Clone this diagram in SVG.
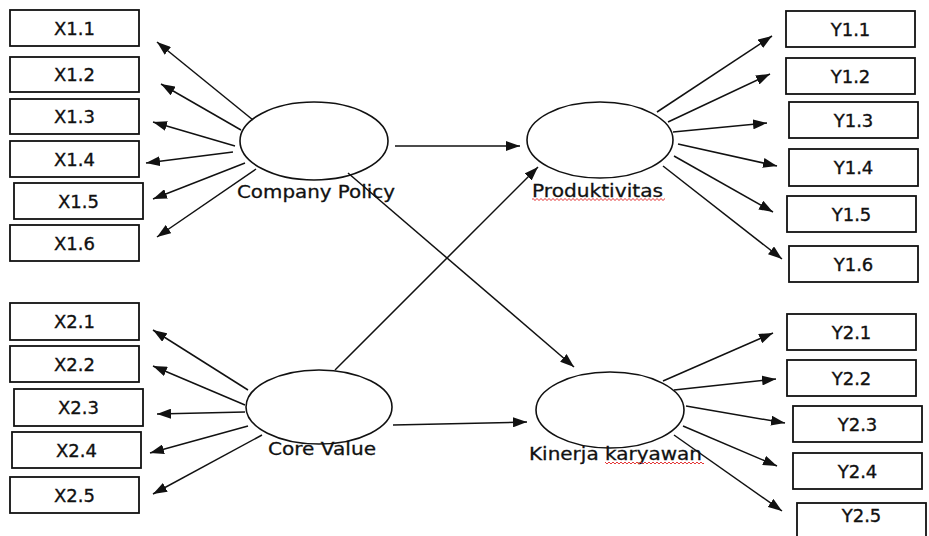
<svg xmlns="http://www.w3.org/2000/svg" width="929" height="536" viewBox="0 0 929 536">
<style>
.box rect{fill:#fff;stroke:#111;stroke-width:1.8}
.box text{font-family:"DejaVu Sans",Verdana,sans-serif;font-size:18px;text-anchor:middle;fill:#111;stroke:#111;stroke-width:0.35}
.lat ellipse{fill:#fff;stroke:#111;stroke-width:1.6}
.lat text{font-family:"DejaVu Sans",Verdana,sans-serif;font-size:18px;text-anchor:middle;fill:#111;stroke:#111;stroke-width:0.3}
.conn line{stroke:#111;stroke-width:1.5;marker-end:url(#ah)}
.wave path{fill:none;stroke:#e02020;stroke-width:0.9}
</style>
<defs>
<marker id="ah" markerUnits="userSpaceOnUse" markerWidth="14" markerHeight="10" refX="14" refY="5" orient="auto"><path d="M0,0 L14,5 L0,10 z" fill="#111"/></marker>
<pattern id="w1" class="wave" patternUnits="userSpaceOnUse" x="0" y="197.5" width="4" height="4"><path d="M0,2 Q1,0 2,2 T4,2"/></pattern>
<pattern id="w2" class="wave" patternUnits="userSpaceOnUse" x="0" y="461" width="4" height="4"><path d="M0,2 Q1,0 2,2 T4,2"/></pattern>
</defs>
<rect width="929" height="536" fill="#fff"/>
<g id="X1.1" class="box"><rect x="10" y="10" width="129" height="36"/><text x="74.5" y="34.5">X1.1</text></g>
<g id="X1.2" class="box"><rect x="10" y="57" width="129" height="35"/><text x="74.5" y="81">X1.2</text></g>
<g id="X1.3" class="box"><rect x="10" y="99" width="129" height="35"/><text x="74.5" y="123">X1.3</text></g>
<g id="X1.4" class="box"><rect x="10" y="141" width="129" height="36"/><text x="74.5" y="165.5">X1.4</text></g>
<g id="X1.5" class="box"><rect x="14" y="183" width="129" height="36"/><text x="78.5" y="207.5">X1.5</text></g>
<g id="X1.6" class="box"><rect x="10" y="225" width="129" height="36"/><text x="74.5" y="249.5">X1.6</text></g>
<g id="X2.1" class="box"><rect x="10" y="303" width="129" height="37"/><text x="74.5" y="328">X2.1</text></g>
<g id="X2.2" class="box"><rect x="10" y="346" width="129" height="36"/><text x="74.5" y="370.5">X2.2</text></g>
<g id="X2.3" class="box"><rect x="14" y="389" width="129" height="37"/><text x="78.5" y="414">X2.3</text></g>
<g id="X2.4" class="box"><rect x="12" y="432" width="129" height="36"/><text x="76.5" y="456.5">X2.4</text></g>
<g id="X2.5" class="box"><rect x="10" y="477" width="129" height="36"/><text x="74.5" y="501.5">X2.5</text></g>
<g id="Y1.1" class="box"><rect x="786" y="11" width="129" height="36"/><text x="850.5" y="35.5">Y1.1</text></g>
<g id="Y1.2" class="box"><rect x="786" y="58" width="129" height="36"/><text x="850.5" y="82.5">Y1.2</text></g>
<g id="Y1.3" class="box"><rect x="789" y="102" width="129" height="36"/><text x="853.5" y="126.5">Y1.3</text></g>
<g id="Y1.4" class="box"><rect x="789" y="149" width="129" height="37"/><text x="853.5" y="174">Y1.4</text></g>
<g id="Y1.5" class="box"><rect x="787" y="196" width="129" height="36"/><text x="851.5" y="220.5">Y1.5</text></g>
<g id="Y1.6" class="box"><rect x="789" y="246" width="129" height="36"/><text x="853.5" y="270.5">Y1.6</text></g>
<g id="Y2.1" class="box"><rect x="787" y="314" width="129" height="36"/><text x="851.5" y="338.5">Y2.1</text></g>
<g id="Y2.2" class="box"><rect x="787" y="360" width="129" height="36"/><text x="851.5" y="384.5">Y2.2</text></g>
<g id="Y2.3" class="box"><rect x="793" y="406" width="129" height="36"/><text x="857.5" y="430.5">Y2.3</text></g>
<g id="Y2.4" class="box"><rect x="793" y="453" width="129" height="36"/><text x="857.5" y="477.5">Y2.4</text></g>
<g id="Y2.5" class="box"><rect x="797" y="503" width="129" height="37"/><text x="861.5" y="522">Y2.5</text></g>
<g id="CompanyPolicy" class="lat"><ellipse cx="314" cy="141" rx="74" ry="39"/><text x="316" y="198" textLength="158" lengthAdjust="spacingAndGlyphs">Company Policy</text></g>
<g id="Produktivitas" class="lat"><ellipse cx="600" cy="140" rx="73" ry="38"/><text x="597.5" y="197" textLength="131" lengthAdjust="spacingAndGlyphs">Produktivitas</text><rect x="532" y="197.5" width="133" height="4" fill="url(#w1)"/></g>
<g id="CoreValue" class="lat"><ellipse cx="319" cy="407" rx="73" ry="37"/><text x="322" y="455" textLength="108" lengthAdjust="spacingAndGlyphs">Core Value</text></g>
<g id="KinerjaKaryawan" class="lat"><ellipse cx="610" cy="410" rx="74" ry="38"/><text x="615.5" y="459.5" textLength="173" lengthAdjust="spacingAndGlyphs">Kinerja karyawan</text><rect x="605" y="461" width="99" height="4" fill="url(#w2)"/></g>
<g id="connectors" class="conn">
<line x1="253" y1="120" x2="157" y2="42"/>
<line x1="241" y1="130" x2="161" y2="84"/>
<line x1="235" y1="146" x2="153" y2="122"/>
<line x1="233" y1="152" x2="146" y2="163"/>
<line x1="245" y1="163" x2="153" y2="199"/>
<line x1="256" y1="169" x2="157" y2="237"/>
<line x1="395" y1="146" x2="520" y2="146"/>
<line x1="348" y1="173" x2="574" y2="367"/>
<line x1="335" y1="370" x2="538" y2="167"/>
<line x1="393" y1="425" x2="527" y2="422"/>
<line x1="248" y1="390" x2="153" y2="330"/>
<line x1="245" y1="405" x2="153" y2="366"/>
<line x1="245" y1="412" x2="157" y2="414"/>
<line x1="248" y1="426" x2="150" y2="453"/>
<line x1="262" y1="435" x2="153" y2="494"/>
<line x1="657" y1="112" x2="772" y2="36"/>
<line x1="668" y1="122" x2="770" y2="74"/>
<line x1="673" y1="132" x2="767" y2="123"/>
<line x1="678" y1="144" x2="777" y2="166"/>
<line x1="674" y1="156" x2="773" y2="212"/>
<line x1="663" y1="166" x2="782" y2="259"/>
<line x1="663" y1="381" x2="773" y2="333"/>
<line x1="674" y1="390" x2="776" y2="379"/>
<line x1="686" y1="406" x2="785" y2="423"/>
<line x1="683" y1="426" x2="777" y2="466"/>
<line x1="674" y1="435" x2="782" y2="511"/>
</g>
</svg>
